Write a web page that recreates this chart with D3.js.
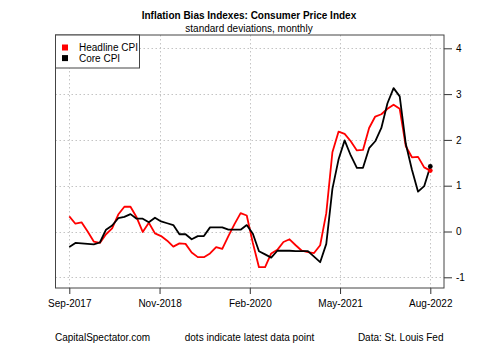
<!DOCTYPE html>
<html><head><meta charset="utf-8">
<script src="https://cdn.jsdelivr.net/npm/d3@7/dist/d3.min.js"></script>
<style>
body{margin:0;background:#fff;}
text{font-family:"Liberation Sans",Arial,sans-serif;fill:#000;}
</style></head>
<body><svg id="c" width="500" height="346"></svg>
<script>
// ---- data ----
const headline = [0.33,0.17,0.20,0.00,-0.22,-0.25,-0.06,0.07,0.37,0.54,
  0.54,0.31,-0.01,0.19,-0.04,-0.10,-0.20,-0.33,-0.26,-0.27,
  -0.46,-0.56,-0.56,-0.48,-0.34,-0.38,-0.10,0.16,0.40,0.35,
  -0.25,-0.78,-0.78,-0.48,-0.40,-0.23,-0.17,-0.30,-0.42,-0.45,
  -0.47,-0.30,0.40,1.73,2.18,2.13,1.97,1.77,1.78,2.26,
  2.51,2.56,2.68,2.77,2.68,1.86,1.62,1.63,1.40,1.33];
const core = [-0.34,-0.25,-0.26,-0.27,-0.28,-0.24,0.04,0.13,0.29,0.32,
  0.38,0.28,0.28,0.20,0.30,0.22,0.18,0.14,-0.06,-0.06,
  -0.17,-0.10,-0.10,0.09,0.09,0.09,0.04,0.04,0.04,0.14,
  -0.05,-0.43,-0.50,-0.57,-0.42,-0.42,-0.42,-0.43,-0.43,-0.43,
  -0.55,-0.67,-0.27,0.93,1.57,1.99,1.66,1.39,1.39,1.82,
  1.97,2.26,2.80,3.13,2.95,1.91,1.35,0.87,0.99,1.42];
const xTickLabels = ["Sep-2017","Nov-2018","Feb-2020","May-2021","Aug-2022"];
const yTicks = [-1,0,1,2,3,4];
const seriesNames = ["Headline CPI","Core CPI"];
const seriesColors = ["#ff0000","#000000"];
const titleText = "Inflation Bias Indexes: Consumer Price Index";
const subtitleText = "standard deviations, monthly";
const footer = ["CapitalSpectator.com","dots indicate latest data point","Data: St. Louis Fed"];

// ---- layout ----
const svg = d3.select("#c");
const P = {l:55.5, r:444, t:35, b:288};
const n = headline.length;
const x = d3.scaleLinear().domain([0, n-1]).range([69.3, 430.3]);
const y = d3.scaleLinear().domain([-1, 4]).range([277.3, 48.3]);
const xTickPos = xTickLabels.map((d,i)=> i*(n-1)/(xTickLabels.length-1));

// grid
const grid = svg.append("g").attr("stroke","#c4c4c4").attr("stroke-dasharray","1.5,2.5").attr("stroke-width",1);
xTickPos.forEach(v=>{
  grid.append("line").attr("x1",Math.round(x(v))+0.5).attr("x2",Math.round(x(v))+0.5).attr("y1",P.t).attr("y2",P.b);
});
yTicks.forEach(v=>{
  grid.append("line").attr("x1",P.l).attr("x2",P.r).attr("y1",Math.round(y(v))+0.5).attr("y2",Math.round(y(v))+0.5);
});

// axes
const xAxis = d3.axisBottom(x).tickValues(xTickPos).tickFormat((d,i)=>xTickLabels[i]).tickSize(6).tickPadding(6);
const gx = svg.append("g").attr("transform",`translate(0,${P.b})`).call(xAxis);
gx.select(".domain").remove();
gx.selectAll("line").attr("stroke","#333");
gx.selectAll("text").attr("font-size","10px").attr("font-family","Liberation Sans, Arial, sans-serif");

const yAxis = d3.axisRight(y).tickValues(yTicks).tickFormat(d=>String(d)).tickSize(8).tickPadding(4);
const gy = svg.append("g").attr("transform",`translate(${P.r},0)`).call(yAxis);
gy.select(".domain").remove();
gy.selectAll("line").attr("stroke","#333");
gy.selectAll("text").attr("font-size","10px").attr("font-family","Liberation Sans, Arial, sans-serif");

// lines
const line = d3.line().x((d,i)=>x(i)).y(d=>y(d));
[headline, core].forEach((s,k)=>{
  svg.append("path").datum(s).attr("d",line).attr("fill","none")
    .attr("stroke",seriesColors[k]).attr("stroke-width",1.8).attr("stroke-linejoin","round");
});
// latest dots
[headline, core].forEach((s,k)=>{
  svg.append("circle").attr("cx",x(n-1)).attr("cy",y(s[n-1])).attr("r",2.4).attr("fill",seriesColors[k]);
});

// frame
svg.append("rect").attr("x",P.l).attr("y",P.t).attr("width",P.r-P.l).attr("height",P.b-P.t)
  .attr("fill","none").attr("stroke","#444").attr("stroke-width",1);

// legend
const lg = svg.append("g");
lg.append("rect").attr("x",P.l).attr("y",P.t).attr("width",84).attr("height",33).attr("fill","#fff").attr("stroke","#444");
seriesNames.forEach((nm,i)=>{
  const cy = 47.5 + i*10.6;
  lg.append("rect").attr("x",62).attr("y",cy-3).attr("width",6).attr("height",6).attr("fill",seriesColors[i]);
  lg.append("text").attr("x",79).attr("y",cy).attr("dy","0.35em").attr("font-size","10px").text(nm);
});

// titles
svg.append("text").attr("x",249).attr("y",15).attr("dy","0.35em").attr("text-anchor","middle")
  .attr("font-size","10px").attr("font-weight","bold").text(titleText);
svg.append("text").attr("x",249).attr("y",28.5).attr("dy","0.35em").attr("text-anchor","middle")
  .attr("font-size","10px").text(subtitleText);

// footer
svg.append("text").attr("x",55).attr("y",337).attr("dy","0.35em").attr("font-size","10px").text(footer[0]);
svg.append("text").attr("x",249.5).attr("y",337).attr("dy","0.35em").attr("text-anchor","middle").attr("font-size","10px").text(footer[1]);
svg.append("text").attr("x",443.5).attr("y",337).attr("dy","0.35em").attr("text-anchor","end").attr("font-size","10px").text(footer[2]);
</script></body></html>
